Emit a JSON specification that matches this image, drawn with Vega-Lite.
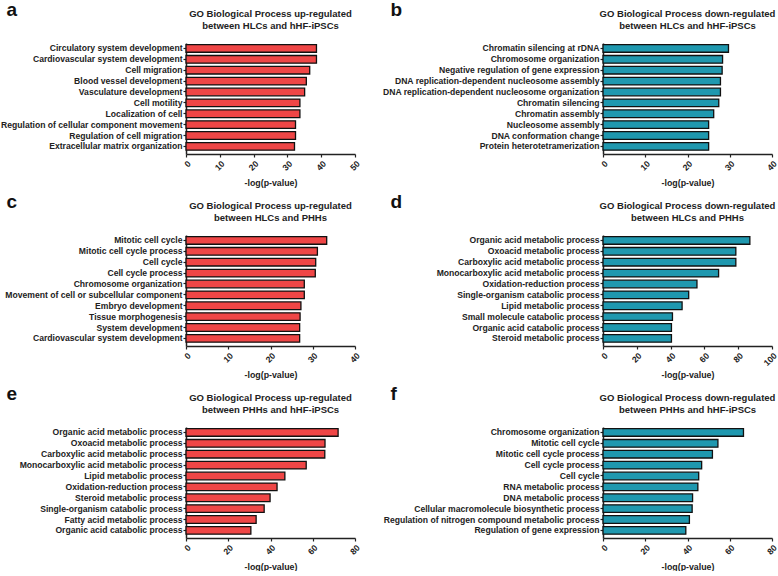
{
  "$schema": "https://vega.github.io/schema/vega-lite/v6.json",
  "padding": {"left": 0, "top": 0, "right": 0, "bottom": 0},
  "background": "white",
  "config": {
    "font": "Liberation Sans",
    "view": {"stroke": null},
    "title": {"fontSize": 9.5, "fontWeight": "bold", "color": "#222", "lineHeight": 12, "anchor": "middle", "frame": "group", "offset": 0, "dy": 34},
    "axis": {"grid": false, "domainColor": "#222", "domainWidth": 1.5, "tickColor": "#222", "tickWidth": 1.2, "tickSize": 3, "labelFontWeight": "bold", "labelFontSize": 8.6, "labelColor": "#222", "titleFontWeight": "bold", "titleFontSize": 8.8, "titleColor": "#222", "labelLimit": 400},
    "axisY": {"labelPadding": 1, "titleAngle": 0, "titleAlign": "left", "titleBaseline": "alphabetic", "titleFontSize": 19, "titleColor": "#111", "titleY": -28},
    "axisX": {"labelAngle": -45, "labelFlush": false, "labelOverlap": false, "labelBound": false, "labelPadding": 2, "titleY": 28, "titleBaseline": "middle"}
  },
  "columns": 2,
  "bounds": "flush",
  "spacing": {"row": 81, "column": 248},
  "datasets": {
    "a": [
      {"term": "Circulatory system development", "value": 38.6},
      {"term": "Cardiovascular system development", "value": 38.6},
      {"term": "Cell migration", "value": 36.6},
      {"term": "Blood vessel development", "value": 35.6},
      {"term": "Vasculature development", "value": 35.1},
      {"term": "Cell motility", "value": 33.7},
      {"term": "Localization of cell", "value": 33.7},
      {"term": "Regulation of cellular component movement", "value": 32.4},
      {"term": "Regulation of cell migration", "value": 32.4},
      {"term": "Extracellular matrix organization", "value": 32.1}
    ],
    "b": [
      {"term": "Chromatin silencing at rDNA", "value": 29.7},
      {"term": "Chromosome organization", "value": 28.3},
      {"term": "Negative regulation of gene expression", "value": 28.2},
      {"term": "DNA replication-dependent nucleosome assembly", "value": 27.8},
      {"term": "DNA replication-dependent nucleosome organization", "value": 27.8},
      {"term": "Chromatin silencing", "value": 27.4},
      {"term": "Chromatin assembly", "value": 26.2},
      {"term": "Nucleosome assembly", "value": 25.0},
      {"term": "DNA conformation change", "value": 25.0},
      {"term": "Protein heterotetramerization", "value": 25.0}
    ],
    "c": [
      {"term": "Mitotic cell cycle", "value": 33.3},
      {"term": "Mitotic cell cycle process", "value": 31.1},
      {"term": "Cell cycle", "value": 30.7},
      {"term": "Cell cycle process", "value": 30.6},
      {"term": "Chromosome organization", "value": 28.0},
      {"term": "Movement of cell or subcellular component", "value": 28.0},
      {"term": "Embryo development", "value": 27.2},
      {"term": "Tissue morphogenesis", "value": 27.0},
      {"term": "System development", "value": 26.9},
      {"term": "Cardiovascular system development", "value": 26.9}
    ],
    "d": [
      {"term": "Organic acid metabolic process", "value": 86.9},
      {"term": "Oxoacid metabolic process", "value": 78.6},
      {"term": "Carboxylic acid metabolic process", "value": 78.6},
      {"term": "Monocarboxylic acid metabolic process", "value": 68.4},
      {"term": "Oxidation-reduction process", "value": 55.6},
      {"term": "Single-organism catabolic process", "value": 50.7},
      {"term": "Lipid metabolic process", "value": 46.8},
      {"term": "Small molecule catabolic process", "value": 41.1},
      {"term": "Organic acid catabolic process", "value": 40.5},
      {"term": "Steroid metabolic process", "value": 40.5}
    ],
    "e": [
      {"term": "Organic acid metabolic process", "value": 72.0},
      {"term": "Oxoacid metabolic process", "value": 65.8},
      {"term": "Carboxylic acid metabolic process", "value": 65.7},
      {"term": "Monocarboxylic acid metabolic process", "value": 56.9},
      {"term": "Lipid metabolic process", "value": 46.8},
      {"term": "Oxidation-reduction process", "value": 43.1},
      {"term": "Steroid metabolic process", "value": 39.8},
      {"term": "Single-organism catabolic process", "value": 37.0},
      {"term": "Fatty acid metabolic process", "value": 33.2},
      {"term": "Organic acid catabolic process", "value": 30.7}
    ],
    "f": [
      {"term": "Chromosome organization", "value": 66.5},
      {"term": "Mitotic cell cycle", "value": 54.4},
      {"term": "Mitotic cell cycle process", "value": 51.8},
      {"term": "Cell cycle process", "value": 46.7},
      {"term": "Cell cycle", "value": 45.3},
      {"term": "RNA metabolic process", "value": 44.9},
      {"term": "DNA metabolic process", "value": 42.4},
      {"term": "Cellular macromolecule biosynthetic process", "value": 42.2},
      {"term": "Regulation of nitrogen compound metabolic process", "value": 40.9},
      {"term": "Regulation of gene expression", "value": 39.2}
    ]
  },
  "concat": [
    {
      "width": 169, "height": 111,
      "title": {"text": ["GO Biological Process up-regulated", "between HLCs and hHF-iPSCs"]},
      "data": {"name": "a"},
      "mark": {"type": "bar", "fill": "#EF4646", "stroke": "#111", "strokeWidth": 1.3},
      "encoding": {
        "y": {"field": "term", "type": "nominal", "sort": null, "scale": {"paddingInner": 0.3, "paddingOuter": 0.25, "align": 0.3}, "axis": {"title": "a", "titleX": -180}},
        "x": {"field": "value", "type": "quantitative", "scale": {"domain": [0, 50], "nice": false}, "axis": {"values": [0, 10, 20, 30, 40, 50], "title": "-log(p-value)"}}
      }
    },
    {
      "width": 169, "height": 111,
      "title": {"text": ["GO Biological Process down-regulated", "between HLCs and hHF-iPSCs"]},
      "data": {"name": "b"},
      "mark": {"type": "bar", "fill": "#1F98AF", "stroke": "#111", "strokeWidth": 1.3},
      "encoding": {
        "y": {"field": "term", "type": "nominal", "sort": null, "scale": {"paddingInner": 0.3, "paddingOuter": 0.25, "align": 0.3}, "axis": {"title": "b", "titleX": -213}},
        "x": {"field": "value", "type": "quantitative", "scale": {"domain": [0, 40], "nice": false}, "axis": {"values": [0, 10, 20, 30, 40], "title": "-log(p-value)"}}
      }
    },
    {
      "width": 169, "height": 111,
      "title": {"text": ["GO Biological Process up-regulated", "between HLCs and PHHs"]},
      "data": {"name": "c"},
      "mark": {"type": "bar", "fill": "#EF4646", "stroke": "#111", "strokeWidth": 1.3},
      "encoding": {
        "y": {"field": "term", "type": "nominal", "sort": null, "scale": {"paddingInner": 0.3, "paddingOuter": 0.25, "align": 0.3}, "axis": {"title": "c", "titleX": -180}},
        "x": {"field": "value", "type": "quantitative", "scale": {"domain": [0, 40], "nice": false}, "axis": {"values": [0, 10, 20, 30, 40], "title": "-log(p-value)"}}
      }
    },
    {
      "width": 169, "height": 111,
      "title": {"text": ["GO Biological Process down-regulated", "between HLCs and PHHs"]},
      "data": {"name": "d"},
      "mark": {"type": "bar", "fill": "#1F98AF", "stroke": "#111", "strokeWidth": 1.3},
      "encoding": {
        "y": {"field": "term", "type": "nominal", "sort": null, "scale": {"paddingInner": 0.3, "paddingOuter": 0.25, "align": 0.3}, "axis": {"title": "d", "titleX": -213}},
        "x": {"field": "value", "type": "quantitative", "scale": {"domain": [0, 100], "nice": false}, "axis": {"values": [0, 20, 40, 60, 80, 100], "title": "-log(p-value)"}}
      }
    },
    {
      "width": 169, "height": 111,
      "title": {"text": ["GO Biological Process up-regulated", "between PHHs and hHF-iPSCs"]},
      "data": {"name": "e"},
      "mark": {"type": "bar", "fill": "#EF4646", "stroke": "#111", "strokeWidth": 1.3},
      "encoding": {
        "y": {"field": "term", "type": "nominal", "sort": null, "scale": {"paddingInner": 0.3, "paddingOuter": 0.25, "align": 0.3}, "axis": {"title": "e", "titleX": -180}},
        "x": {"field": "value", "type": "quantitative", "scale": {"domain": [0, 80], "nice": false}, "axis": {"values": [0, 20, 40, 60, 80], "title": "-log(p-value)"}}
      }
    },
    {
      "width": 169, "height": 111,
      "title": {"text": ["GO Biological Process down-regulated", "between PHHs and hHF-iPSCs"]},
      "data": {"name": "f"},
      "mark": {"type": "bar", "fill": "#1F98AF", "stroke": "#111", "strokeWidth": 1.3},
      "encoding": {
        "y": {"field": "term", "type": "nominal", "sort": null, "scale": {"paddingInner": 0.3, "paddingOuter": 0.25, "align": 0.3}, "axis": {"title": "f", "titleX": -213}},
        "x": {"field": "value", "type": "quantitative", "scale": {"domain": [0, 80], "nice": false}, "axis": {"values": [0, 20, 40, 60, 80], "title": "-log(p-value)"}}
      }
    }
  ]
}
